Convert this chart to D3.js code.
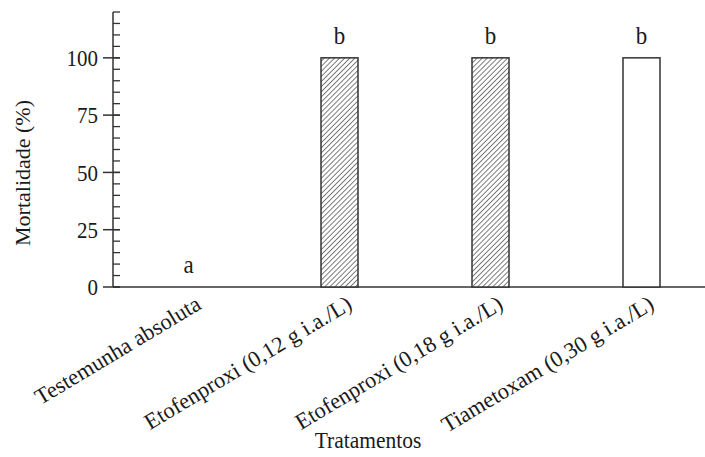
<!DOCTYPE html>
<html>
<head>
<meta charset="utf-8">
<script src="https://cdn.jsdelivr.net/npm/d3@7"></script>
<style>
  body { margin: 0; background: #fff; }
  svg { display: block; }
  text { font-family: "Liberation Serif", "Times New Roman", serif; fill: #1a1a1a; }
</style>
</head>
<body>
<div id="chart"></div>
<script>
const categories = [
  'Testemunha absoluta',
  'Etofenproxi (0,12 g i.a./L)',
  'Etofenproxi (0,18 g i.a./L)',
  'Tiametoxam (0,30 g i.a./L)'
];
const mortality = [0, 100, 100, 100];
const letters = ['a', 'b', 'b', 'b'];
const hatched = [false, true, true, false];
const yTicks = [0, 25, 50, 75, 100];
const yMinorTicks = d3.range(0, 121, 5);

const width = 705, height = 457;
const axisX = 113, axisY = 287, topY = 12;
const barW = 37;
const ink = '#333';
const stretch = 1.12; // the reference text is a bit tall

const svg = d3.select('#chart').append('svg')
    .attr('width', width)
    .attr('height', height);

const defs = svg.append('defs');
const pat = defs.append('pattern')
    .attr('id', 'hatch')
    .attr('patternUnits', 'userSpaceOnUse')
    .attr('width', 3.6)
    .attr('height', 3.6)
    .attr('patternTransform', 'rotate(45)');
pat.append('rect').attr('width', 3.6).attr('height', 3.6).attr('fill', '#fff');
pat.append('line')
    .attr('x1', 0).attr('y1', 0).attr('x2', 0).attr('y2', 3.6)
    .attr('stroke', '#707070').attr('stroke-width', 1.8);

const x = d3.scalePoint()
    .domain(categories)
    .range([axisX, axisX + 604])
    .padding(0.5);

const y = d3.scaleLinear()
    .domain([0, 120])
    .range([axisY, topY]);

// minor ticks (inside)
svg.append('g').selectAll('line')
    .data(yMinorTicks)
    .enter()
    .append('line')
    .attr('x1', axisX).attr('x2', axisX + 7)
    .attr('y1', d => y(d)).attr('y2', d => y(d))
    .attr('stroke', ink).attr('stroke-width', 1.3);

// major ticks crossing the axis
svg.append('g').selectAll('line')
    .data(yTicks)
    .enter()
    .append('line')
    .attr('x1', axisX - 10).attr('x2', axisX + 7)
    .attr('y1', d => y(d)).attr('y2', d => y(d))
    .attr('stroke', ink).attr('stroke-width', 1.5);

svg.append('g').selectAll('text')
    .data(yTicks)
    .enter()
    .append('text')
    .attr('text-anchor', 'end')
    .attr('font-size', 21)
    .attr('transform', d => `translate(${axisX - 15},${y(d)}) scale(1,${stretch})`)
    .attr('dy', '0.35em')
    .text(d => d);

// axes lines
svg.append('line')
    .attr('x1', axisX).attr('x2', axisX)
    .attr('y1', y(120)).attr('y2', axisY)
    .attr('stroke', ink).attr('stroke-width', 1.5);
svg.append('line')
    .attr('x1', axisX).attr('x2', width)
    .attr('y1', axisY).attr('y2', axisY)
    .attr('stroke', ink).attr('stroke-width', 1.5);

// bars
svg.append('g').selectAll('rect')
    .data(mortality)
    .enter()
    .append('rect')
    .attr('x', (d, i) => x(categories[i]) - barW / 2)
    .attr('y', d => y(d))
    .attr('width', barW)
    .attr('height', d => axisY - y(d))
    .attr('fill', (d, i) => hatched[i] ? 'url(#hatch)' : '#fff')
    .attr('stroke', (d, i) => d === 0 ? '#222' : ink)
    .attr('stroke-width', (d, i) => d === 0 ? 2.2 : 1.5);

// significance letters
svg.append('g').selectAll('text')
    .data(letters)
    .enter()
    .append('text')
    .attr('text-anchor', 'middle')
    .attr('font-size', 23)
    .attr('transform', (d, i) => `translate(${x(categories[i])},${y(mortality[i]) - 14}) scale(1,${stretch})`)
    .text(d => d);

// category labels
svg.append('g').selectAll('text')
    .data(categories)
    .enter()
    .append('text')
    .attr('text-anchor', 'end')
    .attr('font-size', 22.5)
    .attr('transform', d => `translate(${x(d) + 14},${308}) rotate(-31)`)
    .text(d => d);

svg.append('text')
    .attr('text-anchor', 'middle')
    .attr('font-size', 21.5)
    .attr('transform', `translate(368,448) scale(1,${stretch})`)
    .text('Tratamentos');

svg.append('text')
    .attr('transform', `translate(30,173) rotate(-90)`)
    .attr('text-anchor', 'middle')
    .attr('font-size', 22)
    .text('Mortalidade (%)');
</script>
</body>
</html>
